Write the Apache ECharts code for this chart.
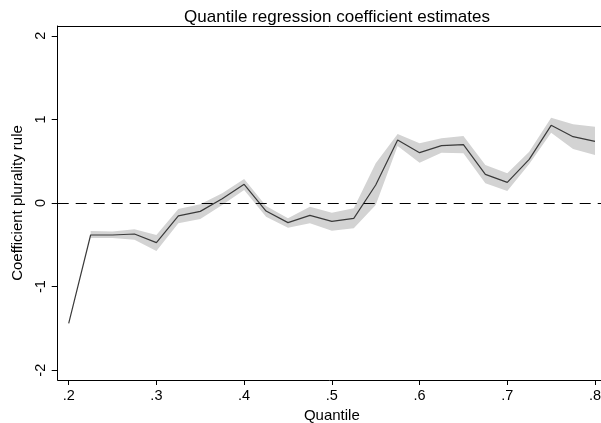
<!DOCTYPE html>
<html>
<head>
<meta charset="utf-8">
<script src="https://cdn.jsdelivr.net/npm/echarts@6/dist/echarts.min.js"></script>
<style>
html,body{margin:0;padding:0;background:#fff;}
#chart{width:601px;height:423px;}
</style>
</head>
<body>
<div id="chart"></div>
<script>
var quantiles = [0.2,0.225,0.25,0.275,0.3,0.325,0.35,0.375,0.4,0.425,0.45,0.475,0.5,0.525,0.55,0.575,0.6,0.625,0.65,0.675,0.7,0.725,0.75,0.775,0.8];
var coef  = [-1.44,-0.383,-0.383,-0.371,-0.474,-0.155,-0.10,0.052,0.224,-0.096,-0.235,-0.148,-0.219,-0.183,0.215,0.754,0.602,0.686,0.698,0.343,0.247,0.522,0.929,0.793,0.738];
var upper = [null,-0.335,-0.34,-0.315,-0.383,-0.072,-0.016,0.116,0.287,-0.036,-0.183,-0.044,-0.116,-0.064,0.474,0.825,0.714,0.774,0.801,0.455,0.355,0.614,1.02,0.941,0.913];
var lower = [null,-0.42,-0.42,-0.44,-0.574,-0.243,-0.191,-0.024,0.155,-0.163,-0.295,-0.243,-0.331,-0.303,-0.024,0.682,0.482,0.602,0.594,0.235,0.144,0.467,0.841,0.646,0.574];
var xTicks = [0.2,0.3,0.4,0.5,0.6,0.7,0.8];
var yTicks = [-2,-1,0,1,2];

var FONT = '"Liberation Sans", Arial, sans-serif';
var lineData = quantiles.map(function(q,i){return [q, coef[i]];});
var bandData = [];
quantiles.forEach(function(q,i){
  if (lower[i] !== null && upper[i] !== null) bandData.push([q, lower[i], upper[i]]);
});

function renderBand(params, api) {
  if (params.dataIndex !== 0) return null;
  var top = [], bot = [];
  for (var i = 0; i < bandData.length; i++) {
    top.push(api.coord([bandData[i][0], bandData[i][2]]));
    bot.push(api.coord([bandData[i][0], bandData[i][1]]));
  }
  var pts = top.concat(bot.reverse());
  return {type: 'polygon', shape: {points: pts}, style: {fill: '#d3d3d3', stroke: null}, silent: true};
}

var chart = echarts.init(document.getElementById('chart'), null, {renderer:'canvas'});
chart.setOption({
  animation: false,
  backgroundColor: '#fff',
  title: {
    text: 'Quantile regression coefficient estimates',
    left: 332, top: 4, textAlign: 'center',
    textStyle: {fontFamily: FONT, fontSize: 17, fontWeight: 'normal', color: '#000'}
  },
  grid: [
    {left: 57.7, right: 0, top: 26, bottom: 43, containLabel: false, outerBoundsMode: 'none'},
    {left: 68.7, right: 6, top: 35.8, bottom: 52.8, containLabel: false, outerBoundsMode: 'none'}
  ],
  xAxis: [
    {gridIndex: 0, type: 'value', min: 0, max: 1, position: 'bottom',
     axisLine: {show: true, onZero: false, lineStyle: {color: '#000', width: 1}},
     axisTick: {show: false}, axisLabel: {show: false}, splitLine: {show: false}},
    {gridIndex: 0, type: 'value', min: 0, max: 1, position: 'top',
     axisLine: {show: true, onZero: false, lineStyle: {color: '#000', width: 1}},
     axisTick: {show: false}, axisLabel: {show: false}, splitLine: {show: false}},
    {gridIndex: 1, type: 'value', min: xTicks[0], max: xTicks[xTicks.length-1], interval: 0.1,
     position: 'bottom', offset: 9.8,
     name: 'Quantile', nameLocation: 'middle', nameGap: 23,
     nameTextStyle: {fontFamily: FONT, fontSize: 15, color: '#000'},
     axisLine: {show: false, onZero: false},
     axisTick: {show: true, length: 5, lineStyle: {color: '#000', width: 1}},
     axisLabel: {fontFamily: FONT, fontSize: 14.5, color: '#000', margin: 8,
       formatter: function(v){ var s = (Math.round(v*10)/10).toString(); return s.replace(/^0\./,'.'); }},
     splitLine: {show: false}}
  ],
  yAxis: [
    {gridIndex: 0, type: 'value', min: -2.117, max: 2.117,
     axisLine: {show: true, onZero: false, lineStyle: {color: '#000', width: 1}},
     axisTick: {show: false}, axisLabel: {show: false}, splitLine: {show: false}},
    {gridIndex: 1, type: 'value', min: yTicks[0], max: yTicks[yTicks.length-1], interval: 1,
     position: 'left', offset: 11,
     name: 'Coefficient plurality rule', nameLocation: 'middle', nameGap: 25,
     nameTextStyle: {fontFamily: FONT, fontSize: 15, color: '#000'},
     axisLine: {show: false, onZero: false},
     axisTick: {show: true, length: 6, lineStyle: {color: '#000', width: 1}},
     axisLabel: {fontFamily: FONT, fontSize: 14.5, color: '#000', rotate: 90, margin: 9},
     splitLine: {show: false}}
  ],
  series: [
    {type: 'custom', xAxisIndex: 2, yAxisIndex: 1, data: bandData, renderItem: renderBand,
     silent: true, z: 1, clip: true},
    {type: 'line', xAxisIndex: 0, yAxisIndex: 0, data: [], silent: true, z: 2,
     markLine: {silent: true, symbol: 'none', label: {show: false},
       lineStyle: {color: '#000', type: [11, 7], width: 1.1},
       data: [{yAxis: 0}]}},
    {type: 'line', xAxisIndex: 2, yAxisIndex: 1, data: lineData, symbol: 'none',
     lineStyle: {color: '#3a3a3a', width: 1.2}, z: 3, silent: true}
  ]
});
</script>
</body>
</html>
